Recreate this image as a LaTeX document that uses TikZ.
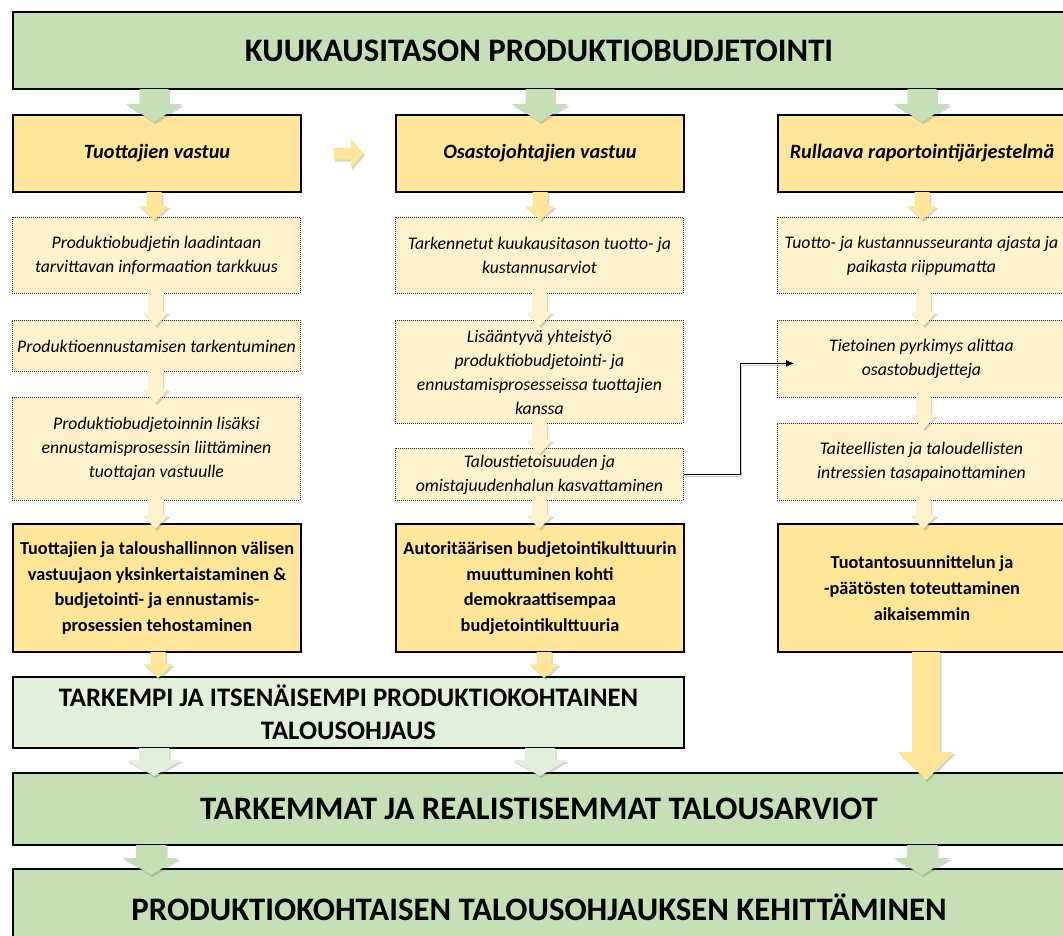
\documentclass[tikz,border=0pt]{standalone}
\usepackage{fontspec}
\setmainfont{Carlito}
\usetikzlibrary{calc,shadows,arrows.meta}

\definecolor{gA}{HTML}{C5E0B4}
\definecolor{gL}{HTML}{E2EFDA}
\definecolor{yA}{HTML}{FFE699}
\definecolor{yL}{HTML}{FFF2CC}

\tikzset{
  banner/.style={draw=black, line width=2pt, fill=gA, minimum width=1052, minimum height=77,
    inner sep=0pt, anchor=north west, align=center, font=\fontsize{32.8}{38}\selectfont\bfseries},
  subbanner/.style={draw=black, line width=2pt, fill=gL, minimum width=671, minimum height=71,
    inner sep=0pt, anchor=north west, align=center, font=\fontsize{26.7}{33}\selectfont\bfseries},
  headbox/.style={draw=black, line width=2pt, fill=yA, minimum width=288, minimum height=77,
    inner sep=0pt, anchor=north west, align=center, font=\fontsize{20.3}{24}\selectfont\bfseries\itshape},
  resbox/.style={draw=black, line width=2pt, fill=yA, minimum width=288, minimum height=128,
    inner sep=0pt, anchor=north west, align=center, font=\fontsize{18.3}{25.7}\selectfont\bfseries},
  dotbox/.style={draw=black!85, line width=0.9pt, dash pattern=on 1pt off 1pt, fill=yL,
    minimum width=288, inner sep=0pt, anchor=north west, align=center,
    font=\fontsize{17.7}{24}\selectfont\itshape},
  arrshadow/.style={drop shadow={shadow xshift=1.5pt, shadow yshift=-2pt, opacity=0.28, fill=black!60}},
  link/.style={draw=black, line width=0.8pt, -{Latex[length=8pt,width=7pt]}},
  linkshadow/.style={draw=black!40, line width=1.2pt, opacity=0.5},
}

% #1 colour, #2 start (x and y taken), #3 tip (y taken), #4 shaft half width, #5 head half width, #6 head length
\newcommand\blockarrow[6]{%
  \fill[#1, arrshadow] let \p1=#2, \p2=#3 in
    (\x1-#4pt,\y1+1pt) -- (\x1+#4pt,\y1+1pt) -- (\x1+#4pt,\y2+#6pt) -- (\x1+#5pt,\y2+#6pt)
    -- (\x1,\y2) -- (\x1-#5pt,\y2+#6pt) -- (\x1-#4pt,\y2+#6pt) -- cycle;}

\begin{document}
\begin{tikzpicture}[x=1pt,y=-1pt]
\clip (0,0) rectangle (1063,935);
\fill[white] (0,0) rectangle (1063,935);

% banners
\node[banner] (top) at (12,11) {KUUKAUSITASON PRODUKTIOBUDJETOINTI};

% column heads
\node[headbox] (t1) at (12,114) {Tuottajien vastuu};
\node[headbox] (t2) at (395,114) {Osastojohtajien vastuu};
\node[headbox] (t3) at (777,114) {Rullaava raportointijärjestelmä};

% column 1
\node[dotbox, minimum height=76] (a1) at (12,217) {Produktiobudjetin laadintaan\\tarvittavan informaation tarkkuus};
\node[dotbox, minimum height=51] (a2) at (12,320) {Produktioennustamisen tarkentuminen};
\node[dotbox, minimum height=103] (a3) at (12,397) {Produktiobudjetoinnin lisäksi\\ennustamisprosessin liittäminen\\tuottajan vastuulle};
% column 2
\node[dotbox, minimum height=76] (b1) at (395,217) {Tarkennetut kuukausitason tuotto- ja\\kustannusarviot};
\node[dotbox, minimum height=103] (b2) at (395,320) {Lisääntyvä yhteistyö\\produktiobudjetointi- ja\\ennustamisprosesseissa tuottajien\\kanssa};
\node[dotbox, minimum height=52] (b3) at (395,448) {Taloustietoisuuden ja\\omistajuudenhalun kasvattaminen};
% column 3
\node[dotbox, minimum height=76] (c1) at (777,217) {Tuotto- ja kustannusseuranta ajasta ja\\paikasta riippumatta};
\node[dotbox, minimum height=77] (c2) at (777,320) {Tietoinen pyrkimys alittaa\\osastobudjetteja};
\node[dotbox, minimum height=77] (c3) at (777,423) {Taiteellisten ja taloudellisten\\intressien tasapainottaminen};

% results
\node[resbox] (p1) at (12,523) {Tuottajien ja taloushallinnon välisen\\vastuujaon yksinkertaistaminen \&\\budjetointi- ja ennustamis-\\prosessien tehostaminen};
\node[resbox] (p2) at (395,523) {Autoritäärisen budjetointikulttuurin\\muuttuminen kohti\\demokraattisempaa\\budjetointikulttuuria};
\node[resbox] (p3) at (777,523) {Tuotantosuunnittelun ja\\-päätösten toteuttaminen\\aikaisemmin};

\node[subbanner] (r6) at (12,676) {TARKEMPI JA ITSENÄISEMPI PRODUKTIOKOHTAINEN\\TALOUSOHJAUS};
\node[banner, minimum height=72] (r7) at (12,772) {TARKEMMAT JA REALISTISEMMAT TALOUSARVIOT};
\node[banner] (r8) at (12,868) {PRODUKTIOKOHTAISEN TALOUSOHJAUKSEN KEHITTÄMINEN};

% arrows: banner -> heads
\blockarrow{gA}{($(top.south -| t1.south)+(-3,0)$)}{($(t1.north)+(0,8)$)}{14.5}{28}{18}
\blockarrow{gA}{(top.south -| t2.south)}{($(t2.north)+(0,8)$)}{14.5}{28}{18}
\blockarrow{gA}{(top.south -| t3.south)}{($(t3.north)+(0,8)$)}{14.5}{28}{18}

% heads -> first dotted
\blockarrow{yA}{($(t1.south)+(-3,0)$)}{($(a1.north)+(0,3)$)}{7.5}{15}{14}
\blockarrow{yA}{(t2.south)}{($(b1.north)+(0,3)$)}{7.5}{15}{14}
\blockarrow{yA}{(t3.south)}{($(c1.north)+(0,3)$)}{7.5}{15}{14}

% dotted chains
\blockarrow{yL}{($(a1.south)+(-1,0)$)}{($(a2.north)+(0,6)$)}{7.5}{13}{14}
\blockarrow{yL}{($(a2.south)+(-1,0)$)}{($(a3.north)+(0,6)$)}{7.5}{13}{14}
\blockarrow{yL}{($(a3.south)+(-1,0)$)}{($(p1.north)+(0,6)$)}{7.5}{13}{14}
\blockarrow{yL}{(b1.south)}{($(b2.north)+(0,6)$)}{7.5}{13}{14}
\blockarrow{yL}{(b2.south)}{($(b3.north)+(0,6)$)}{7.5}{13}{14}
\blockarrow{yL}{(b3.south)}{($(p2.north)+(0,6)$)}{7.5}{13}{14}
\blockarrow{yL}{($(c1.south)+(2,0)$)}{($(c2.north)+(0,6)$)}{7.5}{13}{14}
\blockarrow{yL}{($(c2.south)+(2,0)$)}{($(c3.north)+(0,6)$)}{7.5}{13}{14}
\blockarrow{yL}{($(c3.south)+(2,0)$)}{($(p3.north)+(0,6)$)}{7.5}{13}{14}

% results -> r6
\blockarrow{yA}{($(p1.south)+(1,0)$)}{($(r6.north)+(0,2)$)}{7.5}{15}{14}
\blockarrow{yA}{($(p2.south)+(4,0)$)}{($(r6.north)+(0,2)$)}{7.5}{15}{14}
% big arrow col3 -> r7
\blockarrow{yA}{($(p3.south)+(4,0)$)}{($(r7.north)+(0,8)$)}{14}{28}{28}

% r6 -> r7
\blockarrow{gL}{($(r6.south -| t1.south)+(-3,0)$)}{($(r7.north)+(0,4)$)}{15}{27.5}{16}
\blockarrow{gL}{(r6.south -| t2.south)}{($(r7.north)+(0,4)$)}{15}{27.5}{16}
% r7 -> r8
\blockarrow{gA}{($(r7.south -| t1.south)+(-6,0)$)}{($(r8.north)+(0,7)$)}{15}{28}{17}
\blockarrow{gA}{(r7.south -| t3.south)}{($(r8.north)+(0,7)$)}{15}{28}{17}

% small right arrow between heads
\coordinate (mid) at ($(t1.east)!.5!(t2.west)$);
\fill[yA, arrshadow] let \p1=(mid) in
  (\x1-15pt,\y1-6pt) -- (\x1+2pt,\y1-6pt) -- (\x1+2pt,\y1-15pt) -- (\x1+15pt,\y1)
  -- (\x1+2pt,\y1+15pt) -- (\x1+2pt,\y1+6pt) -- (\x1-15pt,\y1+6pt) -- cycle;

% connector
\coordinate (ct) at ($(c2.west)+(17,4.5)$);
\draw[linkshadow] ($(b3.east)+(1.5,2)$) -- ++(56,0) |- ($(ct)+(-6,2)$);
\draw[link] (b3.east) -- ++(56,0) |- (ct);
\end{tikzpicture}
\end{document}
